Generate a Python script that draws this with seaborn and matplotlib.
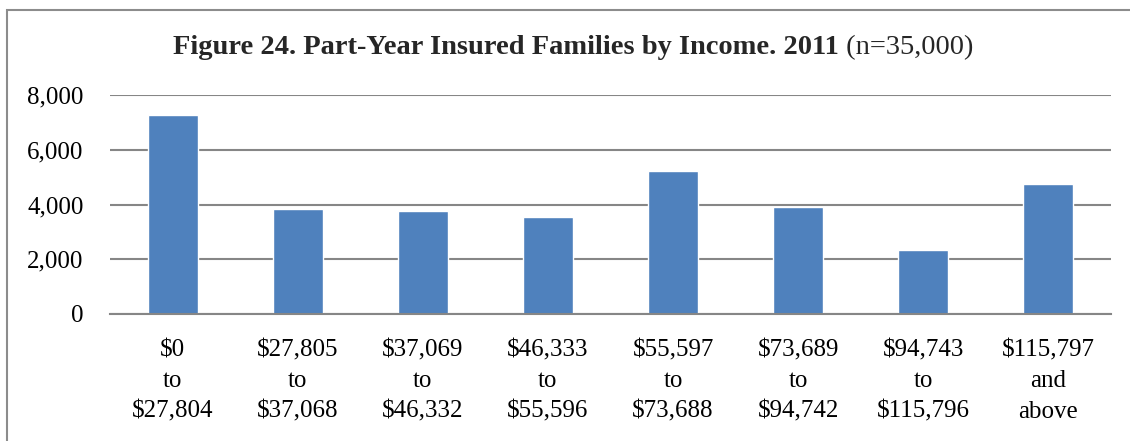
import matplotlib
matplotlib.use('Agg')
import matplotlib.pyplot as plt
import matplotlib.patches as mpatches
import seaborn as sns
import pandas as pd
from matplotlib.ticker import FuncFormatter

income_groups = ['$0\nto\n$27,804', '$27,805\nto\n$37,068', '$37,069\nto\n$46,332',
                 '$46,333\nto\n$55,596', '$55,597\nto\n$73,688', '$73,689\nto\n$94,742',
                 '$94,743\nto\n$115,796', '$115,797\nand\nabove']
families = [7260, 3820, 3760, 3530, 5220, 3920, 2320, 4760]
y_ticks = [0, 2000, 4000, 6000, 8000]

title_bold = 'Figure 24. Part-Year Insured Families by Income. 2011'
title_rest = ' (n=35,000)'

sns.set_style('white')
plt.rcParams['font.family'] = ['Liberation Serif', 'DejaVu Serif']

df = pd.DataFrame({'group': income_groups, 'families': families})

W, H = 1130, 441
fig = plt.figure(figsize=(W / 100, H / 100), dpi=100)
ax = fig.add_axes([110 / W, 1 - 314 / H, (1111 - 110) / W, (314 - 95) / H])

sns.barplot(data=df, x='group', y='families', color='#4F81BD', saturation=1,
            width=0.4, ax=ax)

ax.set_ylim(0, 8000)
ax.set_yticks(y_ticks)
ax.yaxis.set_major_formatter(FuncFormatter(lambda v, _: f'{int(v):,}'))
ax.set_xlim(-0.5, len(income_groups) - 0.5)
ax.set_xlabel('')
ax.set_ylabel('')
ax.set_axisbelow(True)
ax.yaxis.grid(True, color='#868686', linewidth=1.5)
ax.xaxis.grid(False)
for s in ['left', 'top', 'right']:
    ax.spines[s].set_visible(False)
ax.spines['bottom'].set_color('#868686')
ax.spines['bottom'].set_linewidth(1.5)
ax.tick_params(axis='both', length=0, labelsize=18, colors='black')
ax.tick_params(axis='y', pad=19)
ax.tick_params(axis='x', pad=18)
for lbl in ax.get_xticklabels():
    lbl.set_linespacing(1.52)

# title: bold part + regular part, centred together
renderer = fig.canvas.get_renderer()
tb = fig.text(0, 1 - 48 / H, title_bold, fontsize=20.5, fontweight='bold', va='center')
tr = fig.text(0, 1 - 48 / H, title_rest, fontsize=20.5, va='center')
wb = tb.get_window_extent(renderer).width
wr = tr.get_window_extent(renderer).width
x0 = 573 - (wb + wr) / 2
tb.set_x(x0 / W)
tr.set_x((x0 + wb) / W)

# outer frame (only left and top edges fall inside the image)
fig.patches.append(mpatches.Rectangle((7 / W, -0.2), 1.2, 1.2 - 10 / H,
                                      transform=fig.transFigure, fill=False,
                                      edgecolor='#8c8c8c', linewidth=1.5))

fig.savefig('out.png', dpi=100)
